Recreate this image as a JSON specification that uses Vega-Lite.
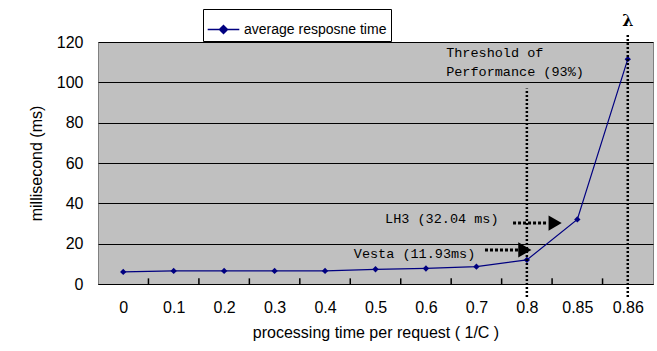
{
  "$schema": "https://vega.github.io/schema/vega-lite/v6.json",
  "width": 555,
  "height": 242,
  "autosize": {"type": "none"},
  "padding": {"left": 98, "top": 42, "right": 4, "bottom": 67},
  "background": "white",
  "config": {
    "view": {"fill": "#C0C0C0", "stroke": "#808080", "strokeWidth": 1},
    "axis": {"labelFont": "Liberation Sans", "titleFont": "Liberation Sans", "labelColor": "black", "titleColor": "black", "titleFontWeight": "normal"}
  },
  "layer": [
    {
      "data": {"values": [
        {"i": 0, "label": "0", "ms": 6.0},
        {"i": 1, "label": "0.1", "ms": 6.5},
        {"i": 2, "label": "0.2", "ms": 6.5},
        {"i": 3, "label": "0.3", "ms": 6.5},
        {"i": 4, "label": "0.4", "ms": 6.5},
        {"i": 5, "label": "0.5", "ms": 7.3},
        {"i": 6, "label": "0.6", "ms": 7.7},
        {"i": 7, "label": "0.7", "ms": 8.6},
        {"i": 8, "label": "0.8", "ms": 11.93},
        {"i": 9, "label": "0.85", "ms": 32.04},
        {"i": 10, "label": "0.86", "ms": 111.5}
      ]},
      "mark": {"type": "line", "strokeWidth": 1.2, "point": {"filled": true, "shape": "diamond", "size": 40}},
      "encoding": {
        "x": {
          "field": "i", "type": "quantitative",
          "scale": {"domain": [-0.5, 10.5], "nice": false, "zero": false},
          "axis": {
            "title": "processing time per request ( 1/C )",
            "titleFontSize": 16, "titlePadding": 9,
            "values": [0, 1, 2, 3, 4, 5, 6, 7, 8, 9, 10],
            "labelExpr": "datum.value === 9 ? '0.85' : datum.value === 10 ? '0.86' : '' + (datum.value / 10)",
            "labelOverlap": false, "labelFlush": false,
            "labelFontSize": 16, "labelPadding": 15,
            "grid": false, "domain": true, "domainColor": "black",
            "ticks": false
          }
        },
        "y": {
          "field": "ms", "type": "quantitative",
          "scale": {"domain": [0, 120], "nice": false},
          "axis": {
            "title": "millisecond (ms)", "titleFontSize": 16, "titlePadding": 12,
            "values": [0, 20, 40, 60, 80, 100, 120],
            "labelFontSize": 16, "labelPadding": 15,
            "ticks": false, "domain": false,
            "grid": true, "gridColor": "black", "gridWidth": 1
          }
        },
        "color": {
          "datum": "average resposne time",
          "scale": {"range": ["#000080"]},
          "legend": {
            "title": null, "orient": "none", "legendX": 105, "legendY": -33,
            "strokeColor": "black", "fillColor": "white", "padding": 4,
            "labelFont": "Liberation Sans", "labelFontSize": 14, "labelColor": "black",
            "symbolType": "M-1,0H1M0,-0.26L0.26,0L0,0.26L-0.26,0Z",
            "symbolSize": 1000, "symbolStrokeWidth": 1.3,
            "symbolFillColor": "#000080", "symbolStrokeColor": "#000080"
          }
        }
      }
    },
    {
      "data": {"values": [
        {"b": 0.5, "lo": 0, "hi": 2.8}, {"b": 1.5, "lo": 0, "hi": 2.8}, {"b": 2.5, "lo": 0, "hi": 2.8},
        {"b": 3.5, "lo": 0, "hi": 2.8}, {"b": 4.5, "lo": 0, "hi": 2.8}, {"b": 5.5, "lo": 0, "hi": 2.8},
        {"b": 6.5, "lo": 0, "hi": 2.8}, {"b": 7.5, "lo": 0, "hi": 2.8}, {"b": 8.5, "lo": 0, "hi": 2.8},
        {"b": 9.5, "lo": 0, "hi": 2.8}
      ]},
      "mark": {"type": "rule", "stroke": "#000000", "strokeWidth": 1.5, "opacity": 1},
      "encoding": {
        "x": {"field": "b", "type": "quantitative"},
        "y": {"field": "lo", "type": "quantitative"},
        "y2": {"field": "hi"}
      }
    },
    {
      "data": {"values": [
        {"i": 8, "y": -6.5, "y2": 97},
        {"i": 10, "y": -6.5, "y2": 124.5}
      ]},
      "mark": {"type": "rule", "color": "black", "strokeWidth": 2.5, "strokeDash": [2, 2], "clip": false},
      "encoding": {
        "x": {"field": "i", "type": "quantitative"},
        "y": {"field": "y", "type": "quantitative"},
        "y2": {"field": "y2"}
      }
    },
    {
      "data": {"values": [
        {"x": 7.726, "x2": 8.42, "y": 30.2},
        {"x": 7.17, "x2": 7.825, "y": 16.9}
      ]},
      "mark": {"type": "rule", "color": "black", "strokeWidth": 3, "strokeDash": [3, 2]},
      "encoding": {
        "x": {"field": "x", "type": "quantitative"},
        "x2": {"field": "x2"},
        "y": {"field": "y", "type": "quantitative"}
      }
    },
    {
      "data": {"values": [
        {"x": 8.56, "y": 30.2},
        {"x": 7.96, "y": 16.9}
      ]},
      "mark": {"type": "point", "shape": "triangle-right", "filled": true, "color": "black", "opacity": 1, "size": 230},
      "encoding": {
        "x": {"field": "x", "type": "quantitative"},
        "y": {"field": "y", "type": "quantitative"}
      }
    },
    {
      "data": {"values": [
        {"x": 6.4, "y": 114.5, "text": "Threshold of"},
        {"x": 6.4, "y": 105.2, "text": "Performance (93%)"},
        {"x": 5.19, "y": 32.2, "text": "LH3 (32.04 ms)"},
        {"x": 4.57, "y": 14.9, "text": "Vesta (11.93ms)"}
      ]},
      "mark": {"type": "text", "align": "left", "baseline": "middle", "font": "Liberation Mono", "fontSize": 13.5, "color": "black"},
      "encoding": {
        "x": {"field": "x", "type": "quantitative"},
        "y": {"field": "y", "type": "quantitative"},
        "text": {"field": "text"}
      }
    },
    {
      "data": {"values": [
        {"x": 10, "y": 130.5, "text": "λ"}
      ]},
      "mark": {"type": "text", "align": "center", "baseline": "middle", "font": "DejaVu Serif", "fontWeight": "bold", "fontSize": 16, "color": "black", "clip": false},
      "encoding": {
        "x": {"field": "x", "type": "quantitative"},
        "y": {"field": "y", "type": "quantitative"},
        "text": {"field": "text"}
      }
    }
  ]
}
